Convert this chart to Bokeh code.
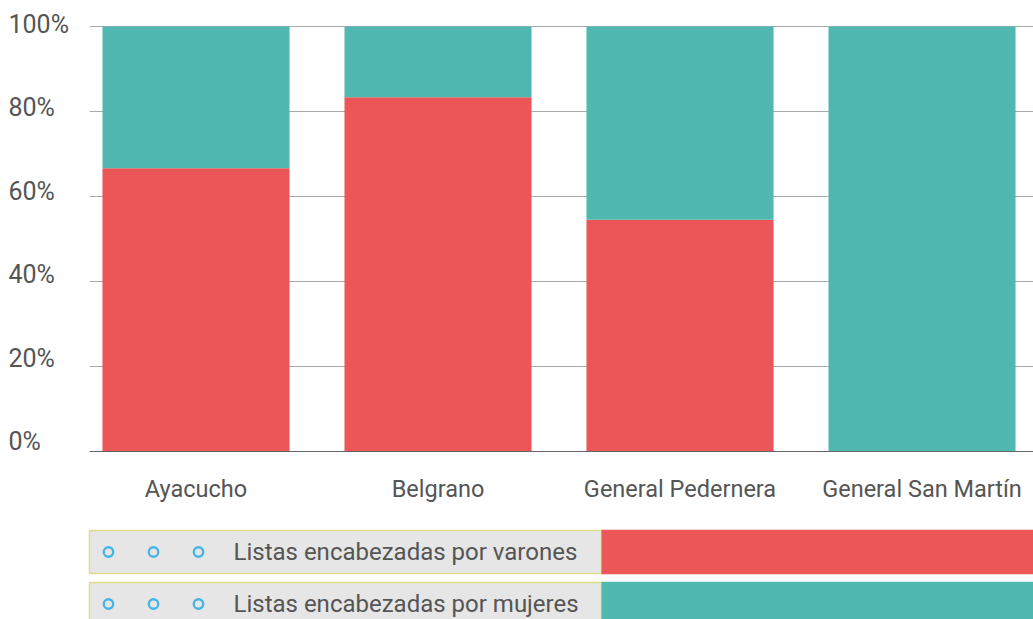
from bokeh.plotting import figure
from bokeh.models import Range1d, FixedTicker, ColumnDataSource, Spacer, Span
from bokeh.layouts import column, row
from bokeh.embed import file_html
from bokeh.resources import INLINE
from bokeh.core.properties import value

# ---- data ----
categories = ["Ayacucho", "Belgrano", "General Pedernera", "General San Martín"]
varones = [66.67, 83.33, 54.55, 0.0]
mujeres = [33.33, 16.67, 45.45, 100.0]
series_names = ["Listas encabezadas por varones", "Listas encabezadas por mujeres"]
series_colors = ["#ec5659", "#51b8b1"]
y_ticks = [0, 20, 40, 60, 80, 100]
y_tick_labels = ["0%", "20%", "40%", "60%", "80%", "100%"]

FONT = "Roboto"
TXT = "#555555"

xs = list(range(len(categories)))
src = ColumnDataSource(dict(x=xs, varones=varones, mujeres=mujeres))

W = 1033
H_MAIN = 520
H_LEG = 99
LEFT = 89

X_START = -0.4401
X_END = 3.4607

# ---- y tick label column (left-aligned labels, sitting slightly above their lines) ----
labfig = figure(width=LEFT, height=H_MAIN, output_backend="svg", toolbar_location=None,
                x_range=Range1d(0, LEFT), y_range=Range1d(-18.922, 105.629),
                min_border=0, x_axis_location=None, y_axis_location=None)
labfig.outline_line_color = None
labfig.grid.visible = False
labfig.text(x=[8] * len(y_ticks), y=y_ticks, text=y_tick_labels, text_font=value(FONT),
            text_font_size="25px", text_color=TXT, text_align="left",
            text_baseline="middle")

# ---- main chart (frame spans the full height; category labels drawn below 0) ----
p = figure(width=W - LEFT, height=H_MAIN, output_backend="svg", toolbar_location=None,
           x_range=Range1d(X_START, X_END), y_range=Range1d(-16.235, 106.118),
           min_border=0, x_axis_location=None, y_axis_location=None)
p.outline_line_color = None
p.background_fill_color = "white"

p.ygrid.visible = True
p.xgrid.visible = False

from bokeh.models import Grid
grid = Grid(dimension=1, ticker=FixedTicker(ticks=y_ticks[1:]),
            grid_line_color="#aaaaaa", grid_line_width=1)
p.add_layout(grid)
p.add_layout(Span(location=0, dimension="width", line_color="#666666", line_width=1))

p.vbar_stack(["varones", "mujeres"], x="x", width=0.773, source=src,
             color=series_colors, line_color=None)

p.text(x=xs, y=[-8.94] * len(xs), text=categories, text_font=value(FONT),
       text_font_size="23.5px", text_color=TXT, text_align="center",
       text_baseline="middle")

# ---- legend strip ----
leg = figure(width=W - LEFT + 1, height=H_LEG, output_backend="svg", toolbar_location=None,
             x_range=Range1d(LEFT - 1, W), y_range=Range1d(H_LEG, 0),
             min_border=0, x_axis_location=None, y_axis_location=None)
leg.outline_line_color = None
leg.grid.visible = False

row_top = [10, 62]
row_h = 43
box_left = 88.8
box_right = 601
for i, (name, col) in enumerate(zip(series_names, series_colors)):
    t = row_top[i]
    b = t + row_h
    leg.quad(left=box_left, right=box_right, top=t, bottom=b,
             fill_color="#e6e6e6", line_color="#dede88", line_width=1.6)
    leg.quad(left=box_right, right=W + 20, top=t - 0.8, bottom=b + 0.8,
             fill_color=col, line_color=None)
    cy = t + row_h / 2
    leg.scatter(x=[108, 153, 198], y=[cy] * 3, marker="circle", size=9.5,
                fill_color=None, line_color="#45b5e8", line_width=2.3)
    leg.text(x=[233], y=[cy], text=[name], text_font=value(FONT),
             text_font_size="24px", text_color=TXT, text_baseline="middle",
             text_align="left")

layout = column(row(labfig, p, spacing=0),
                row(Spacer(width=LEFT - 1, height=H_LEG), leg, spacing=0),
                spacing=0)
open("out.html", "w").write(file_html(layout, INLINE))
